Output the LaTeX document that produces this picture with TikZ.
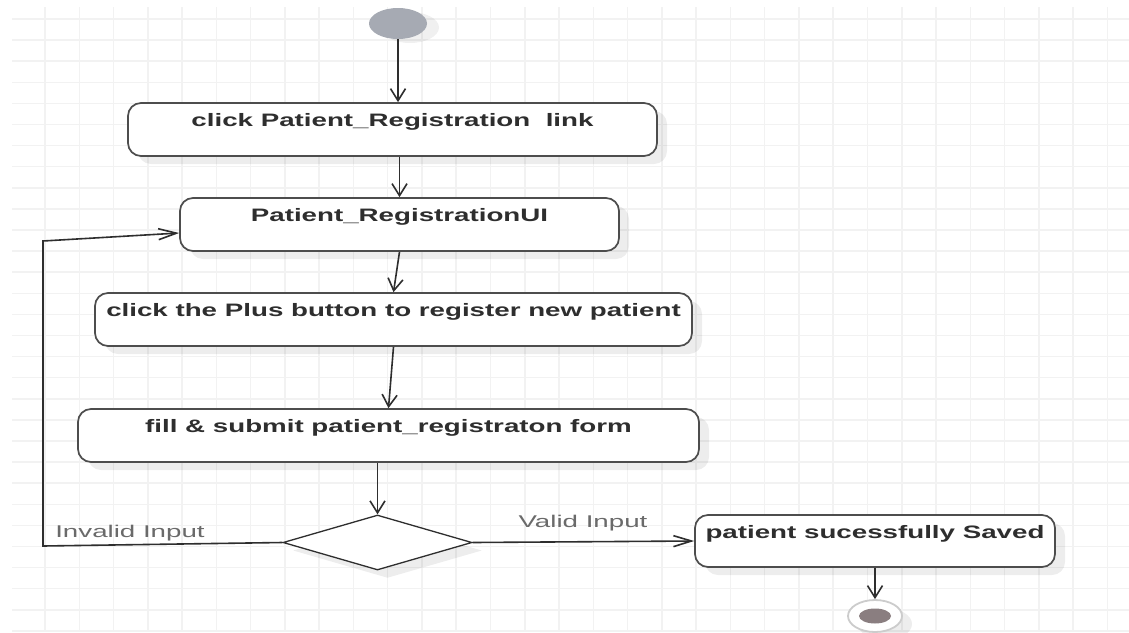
\documentclass[tikz,border=0pt]{standalone}
\usepackage{fontspec}
\usepackage{graphicx}
\setmainfont{Liberation Sans}
\usetikzlibrary{arrows.meta,shapes.geometric,shadows}
\definecolor{gridline}{HTML}{F2F2F2}
\definecolor{edge}{HTML}{4D4D4D}
\definecolor{ink}{HTML}{2E2E2E}
\definecolor{startgrey}{HTML}{A6AAB3}
\definecolor{endfill}{HTML}{8A7E80}
\definecolor{labelgrey}{HTML}{6A6A6A}

\begin{document}
\begin{tikzpicture}[x=1pt,y=-1pt,
  softshadow/.style={drop shadow={shadow xshift=10pt,shadow yshift=-8pt,fill=black,opacity=0.07}},
  activity/.style={draw=edge,line width=1.7pt,rounded corners=13pt,fill=white,softshadow,inner sep=0pt},
  acttext/.style={font=\bfseries\fontsize{18}{20}\selectfont,text=ink,anchor=base,inner sep=0pt},
  guard/.style={font=\fontsize{17}{19}\selectfont,text=labelgrey,inner sep=0pt},
  flow/.style={draw=ink,line width=1.6pt},
  vtip/.style={-{Straight Barb[length=12pt,width=15pt]}},
  htip/.style={-{Straight Barb[length=18pt,width=11pt]}},
]
\useasboundingbox (0,0) rectangle (1129,632);
\fill[white] (0,0) rectangle (1129,632);

% background grid
\begin{scope}[line width=1.5pt]
  \foreach \k in {0,...,31} \draw[gridline] ({45+34.27*\k},7) -- ({45+34.27*\k},632);
  \foreach \k in {0,...,29} \draw[gridline] (12,{19+21.1*\k}) -- (1129,{19+21.1*\k});
\end{scope}

% initial node
\node[ellipse,fill=startgrey,minimum width=58pt,minimum height=31pt,inner sep=0pt,
      drop shadow={shadow xshift=12pt,shadow yshift=-4pt,fill=black,opacity=0.06}] (start) at (398,23.5) {};

% activities
\node[activity,minimum width=529pt,minimum height=53pt] (b1) at (392.5,129.5) {};
\node[activity,minimum width=439pt,minimum height=53pt] (b2) at (399.5,224.5) {};
\node[activity,minimum width=597pt,minimum height=53pt] (b3) at (393.5,319.5) {};
\node[activity,minimum width=621pt,minimum height=53pt] (b4) at (388.5,435.5) {};
\node[activity,minimum width=360pt,minimum height=52pt] (b5) at (875,541) {};

\node[acttext] (t1) at ([yshift=3pt]b1.center) {\scalebox{1.54}[1]{click Patient\_Registration\ \ link}};
\node[acttext] (t2) at ([yshift=3pt]b2.center) {\scalebox{1.54}[1]{Patient\_RegistrationUI}};
\node[acttext] (t3) at ([yshift=3pt]b3.center) {\scalebox{1.54}[1]{click the Plus button to register new patient}};
\node[acttext] (t4) at ([yshift=3pt]b4.center) {\scalebox{1.54}[1]{fill \& submit patient\_registraton form}};
\node[acttext] (t5) at ([yshift=3pt]b5.center) {\scalebox{1.54}[1]{patient sucessfully Saved}};

% decision
\node[diamond,draw=ink,line width=1.3pt,fill=white,softshadow,
      minimum width=189pt,minimum height=55pt,inner sep=0pt] (dec) at (377.5,542.5) {};

% final node
\node[ellipse,draw=gray!40,line width=1.8pt,fill=white,minimum width=54pt,minimum height=32pt,
      inner sep=0pt,softshadow] (stop) at (875,616) {};
\node[ellipse,fill=endfill,minimum width=32pt,minimum height=15pt,inner sep=0pt] (stopdot) at (stop.center) {};

% control flows
\draw[flow,vtip] (start.south) -- (start.south |- b1.north);
\draw[flow,vtip] (b2.north |- b1.south) -- (b2.north);
\draw[flow,vtip] (b2.south) -- (b3.north);
\draw[flow,vtip] (b3.south) -- (b4.north);
\draw[flow,vtip] (dec.north |- b4.south) -- (dec.north);
\draw[flow,htip] (dec.east) -- (b5.west);
\draw[flow,vtip] (b5.south) -- (stop.north);

\coordinate (lowcorner) at (43,546);
\coordinate (upcorner) at (43,241);
\draw[flow,htip] (dec.west) -- (lowcorner) -- (upcorner) -- ([yshift=-8.5pt]b2.west);

% guards
\node[guard] (invalidlbl) at (130,533) {\scalebox{1.63}[1]{Invalid Input}};
\node[guard] (validlbl) at (583,523) {\scalebox{1.63}[1]{Valid Input}};
\end{tikzpicture}
\end{document}
